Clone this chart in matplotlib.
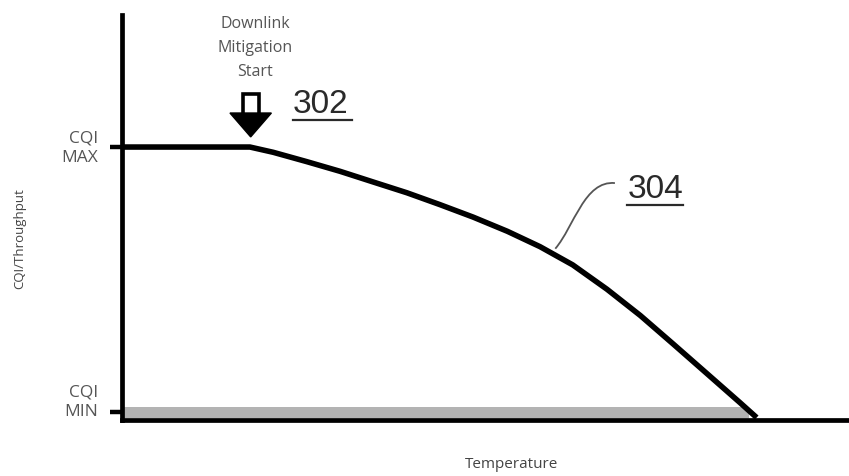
import matplotlib.pyplot as plt
from matplotlib.patches import Polygon, PathPatch
from matplotlib.path import Path

# curve 304: CQI/throughput vs temperature (arbitrary 0-100 units)
temperature = [0, 17.6, 20.8, 25.4, 30.0, 34.5, 39.2, 43.7, 48.3, 53.0, 57.5,
               62.0, 66.7, 71.3, 75.8, 80.5, 85.0, 87.3]
cqi = [67.4, 67.4, 66.1, 63.8, 61.4, 58.8, 56.1, 53.2, 50.1, 46.6, 42.8,
       38.3, 32.3, 25.8, 18.8, 11.4, 4.3, 0.6]

cqi_max = 67.4
cqi_min = 2.0
band_top = 3.2
band_end = 86.2
mitigation_start = 17.7

text_gray = '#555555'
num_gray = '#2a2a2a'

fig = plt.figure(figsize=(8.49, 4.76), dpi=100)
ax = fig.add_axes([0.1437, 0.1176, 0.8563, 0.8509])
ax.set_xlim(0, 100)
ax.set_ylim(0, 100)

for side in ['top', 'right']:
    ax.spines[side].set_visible(False)
for side in ['left', 'bottom']:
    ax.spines[side].set_linewidth(3.4)
    ax.spines[side].set_color('black')

ax.set_xticks([])
ax.set_yticks([cqi_max, cqi_min])
ax.set_yticklabels(['', ''])
ax.tick_params(axis='y', length=8.5, width=3.2, color='black')

# shaded strip above CQI MIN
ax.fill_between([0, band_end], 0.5, band_top, color='#b3b3b3', lw=0, zorder=1)

ax.plot(temperature, cqi, color='black', lw=4.0, solid_capstyle='butt',
        solid_joinstyle='round', zorder=3, clip_on=False)

# level labels
ax.text(-3.3, cqi_max - 0.3, 'CQI\nMAX', ha='right', va='center', fontsize=12.5,
        color=text_gray, family='Open Sans', linespacing=1.35, clip_on=False)
ax.text(-3.3, cqi_min + 2.4, 'CQI\nMIN', ha='right', va='center', fontsize=12.5,
        color=text_gray, family='Open Sans', linespacing=1.35, clip_on=False)

# mitigation start arrow
x0 = mitigation_start
shaft = Polygon([(x0 - 1.1, 80.6), (x0 + 1.1, 80.6), (x0 + 1.1, 75.0), (x0 - 1.1, 75.0)],
                closed=True, facecolor='white', edgecolor='black', lw=2.6, zorder=4)
head = Polygon([(x0 - 2.85, 75.8), (x0 + 2.85, 75.8), (x0, 69.9)],
               closed=True, facecolor='black', edgecolor='black', lw=1, zorder=4)
ax.add_patch(shaft)
ax.add_patch(head)

ax.text(18.3, 91.9, 'Downlink\nMitigation\nStart', ha='center', va='center', fontsize=11.5,
        color=text_gray, family='Open Sans', linespacing=1.65)

ax.text(23.5, 75.8, '302', ha='left', va='baseline', fontsize=24,
        color=num_gray, family='Liberation Sans')
ax.plot([23.5, 31.6], [74.1, 74.1], color=num_gray, lw=1.6)

ax.text(69.5, 54.8, '304', ha='left', va='baseline', fontsize=24,
        color=num_gray, family='Liberation Sans')
ax.plot([69.5, 77.2], [53.0, 53.0], color=num_gray, lw=1.6)

# leader line from 304 to the curve
verts = [(67.8, 58.5), (63.6, 59.2), (62.2, 47.8), (59.6, 42.3)]
leader = PathPatch(Path(verts, [Path.MOVETO, Path.CURVE4, Path.CURVE4, Path.CURVE4]),
                   facecolor='none', edgecolor='#555555', lw=1.3, zorder=2)
ax.add_patch(leader)

fig.text(0.0236, 0.498, 'CQI/Throughput', rotation=90, ha='center', va='center',
         fontsize=9.5, color='#444444', family='Open Sans')
fig.text(0.603, 0.025, 'Temperature', ha='center', va='center',
         fontsize=11, color='#444444', family='Open Sans')

fig.savefig('out.png', dpi=100)
